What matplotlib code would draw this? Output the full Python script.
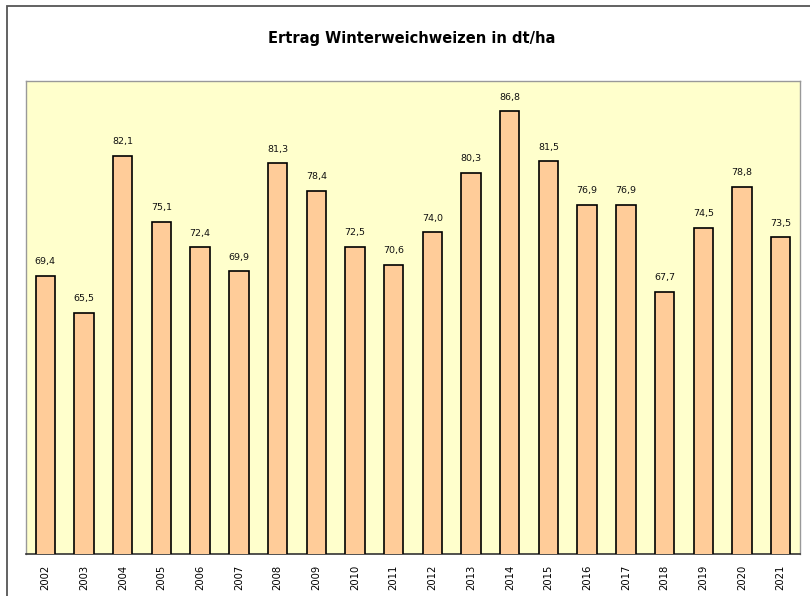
import matplotlib
matplotlib.use("Agg")
import matplotlib.pyplot as plt
from matplotlib.patches import Rectangle

years = ["2002", "2003", "2004", "2005", "2006", "2007", "2008", "2009", "2010", "2011",
         "2012", "2013", "2014", "2015", "2016", "2017", "2018", "2019", "2020", "2021"]
values = [69.4, 65.5, 82.1, 75.1, 72.4, 69.9, 81.3, 78.4, 72.5, 70.6,
          74.0, 80.3, 86.8, 81.5, 76.9, 76.9, 67.7, 74.5, 78.8, 73.5]
title = "Ertrag Winterweichweizen in dt/ha"

plt.rcParams['font.family'] = ['DejaVu Sans']

fig = plt.figure(figsize=(8.1, 5.96), dpi=100)
ax = fig.add_axes([26/810, 1-554/596, (800-26)/810, (554-81)/596])
ax.set_facecolor("#FFFFCC")

x = list(range(len(years)))
bars = ax.bar(x, values, width=0.5, color="#FFCC99", edgecolor="black", linewidth=1.2, zorder=3)
ax.set_xlim(-0.5, len(years)-0.5)
ax.set_ylim(40, 90)

for xi, v in zip(x, values):
    ax.text(xi, v + 1.0, f"{v:.1f}".replace(".", ","), ha="center", va="bottom",
            fontsize=6.8, color="#111111")

ax.set_xticks(x)
ax.set_xticklabels(years, rotation=90, fontsize=7.2)
ax.tick_params(axis="x", length=0, pad=8)
ax.set_yticks([])

for s in ["top", "right", "left"]:
    ax.spines[s].set_color("#999999")
    ax.spines[s].set_linewidth(1.0)
ax.spines["bottom"].set_color("#333333")
ax.spines["bottom"].set_linewidth(1.2)

fig.text(412/810, 1-39/596, title, ha="center", va="center", fontsize=10.5, fontweight="bold")

frame = Rectangle((7/810, -0.1), 1.2, 1-6/596+0.1, transform=fig.transFigure,
                  fill=False, edgecolor="#555555", linewidth=1.3)
fig.patches.append(frame)

fig.savefig("out.png", dpi=100)
